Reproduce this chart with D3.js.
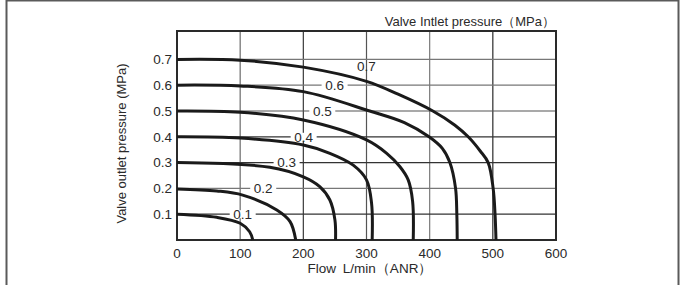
<!DOCTYPE html>
<html><head><meta charset="utf-8">
<script src="https://cdn.jsdelivr.net/npm/d3@7"></script>
<style>body{margin:0;background:#fff}svg{display:block}text{font-family:"Liberation Sans",Arial,sans-serif;fill:#2a2a2a}</style>
</head><body><svg id="c" width="681" height="285"></svg>
<script>
const xTicks = [0,100,200,300,400,500,600];
const yTicks = [0.1,0.2,0.3,0.4,0.5,0.6,0.7];
const inletPressures = [0.1,0.2,0.3,0.4,0.5,0.6,0.7];
// flow (L/min), outlet pressure (MPa) points per curve
const curve01 = [[0,0.1],[63,0.088],[100,0.065],[115,0.032],[120,0.0]];
const curve02 = [[0,0.198],[63,0.19],[104,0.174],[158,0.116],[179,0.071],[188,0.0]];
const curve03 = [[0,0.3],[147,0.282],[200,0.245],[226,0.207],[242,0.155],[250,0.078],[251,0.0]];
const curve04 = [[0,0.4],[100,0.395],[200,0.368],[242,0.336],[279,0.29],[300,0.233],[308,0.143],[309,0.0]];
const curve05 = [[0,0.5],[100,0.495],[200,0.465],[300,0.388],[332,0.336],[353,0.284],[366,0.233],[373,0.15],[374,0.0]];
const curve06 = [[0,0.6],[100,0.597],[200,0.575],[305,0.5],[360,0.455],[399,0.4],[420,0.355],[432,0.3],[441,0.2],[443,0.1],[443.6,0.0]];
const curve07 = [[0,0.7],[100,0.697],[200,0.67],[300,0.615],[350,0.565],[405,0.5],[440,0.445],[461,0.4],[480,0.345],[492.6,0.3],[500.5,0.2],[503.5,0.1],[505,0.0]];
const curves = [curve01,curve02,curve03,curve04,curve05,curve06,curve07];
const labelX = [104,136.5,173.5,200.5,230,249.5,300];
const labelY = [0.1,0.2,0.3,0.4,0.5,0.6,0.672];
const labelText = ["0.1","0.2","0.3","0.4","0.5","0.6","0.7"];

const svg = d3.select("#c");
// outer frame
svg.append("rect").attr("x",6.5).attr("y",0.5).attr("width",672).attr("height",300)
  .attr("fill","none").attr("stroke","#5a5a5a").attr("stroke-width",2);

const L=177,R=556,T=31,B=240;
const x = d3.scaleLinear().domain([0,600]).range([L,R]);
const y = d3.scaleLinear().domain([0,0.81]).range([B,T]);

const g = svg.append("g");
// vertical gridlines
const vCols = {100:"#6a6a6a",200:"#3a3a3a",300:"#555",400:"#7a7a7a",500:"#2a2a2a"};
g.selectAll(".vg").data(xTicks.filter(d=>d>0&&d<600)).enter().append("line")
  .attr("x1",d=>x(d)).attr("x2",d=>x(d)).attr("y1",T).attr("y2",B)
  .attr("stroke",d=>vCols[d]).attr("stroke-width",1.2);
const hCols = {0.1:"#333",0.2:"#777",0.3:"#333",0.4:"#333",0.5:"#555",0.6:"#777",0.7:"#777"};
g.selectAll(".hg").data(yTicks).enter().append("line")
  .attr("x1",L).attr("x2",R).attr("y1",d=>y(d)).attr("y2",d=>y(d))
  .attr("stroke",d=>hCols[d]).attr("stroke-width",1.2);

// label backgrounds (break gridlines)
labelText.forEach((t,i)=>{
  if(i<6){
    g.append("rect").attr("x",x(labelX[i])-13).attr("y",y(labelY[i])-4)
      .attr("width",26).attr("height",8).attr("fill","#fff");
  }
});

// plot frame
g.append("rect").attr("x",L).attr("y",T).attr("width",R-L).attr("height",B-T)
  .attr("fill","none").attr("stroke","#2a2a2a").attr("stroke-width",2);

// curves
const line = d3.line().x(d=>x(d[0])).y(d=>y(d[1])).curve(d3.curveCatmullRom.alpha(0.5));
g.selectAll(".cv").data(curves).enter().append("path")
  .attr("d",line).attr("fill","none").attr("stroke","#1a1a1a").attr("stroke-width",3);

// curve labels
labelText.forEach((t,i)=>{
  g.append("text").attr("x",x(labelX[i])).attr("y",y(labelY[i])).attr("dy","0.36em")
    .attr("text-anchor","middle").attr("font-size",13.5).text(t);
});

// axes tick labels
g.selectAll(".xt").data(xTicks).enter().append("text")
  .attr("x",d=>x(d)).attr("y",B+18).attr("text-anchor","middle").attr("font-size",13.5)
  .text(d=>d);
g.selectAll(".yt").data(yTicks).enter().append("text")
  .attr("x",L-5).attr("y",d=>y(d)).attr("dy","0.36em").attr("text-anchor","end").attr("font-size",13.5)
  .text(d=>d.toFixed(1));

// titles
svg.append("text").attr("x",R-1).attr("y",26).attr("text-anchor","end").attr("font-size",13)
  .text("Valve Intlet pressure（MPa）");
svg.append("text").attr("x",370).attr("y",273).attr("text-anchor","middle").attr("font-size",13.5)
  .attr("word-spacing",3).text("Flow  L/min（ANR）");
svg.append("text").attr("transform",`translate(126,${(T+B)/2+8}) rotate(-90)`)
  .attr("text-anchor","middle").attr("font-size",13).text("Valve outlet pressure (MPa)");
</script></body></html>
